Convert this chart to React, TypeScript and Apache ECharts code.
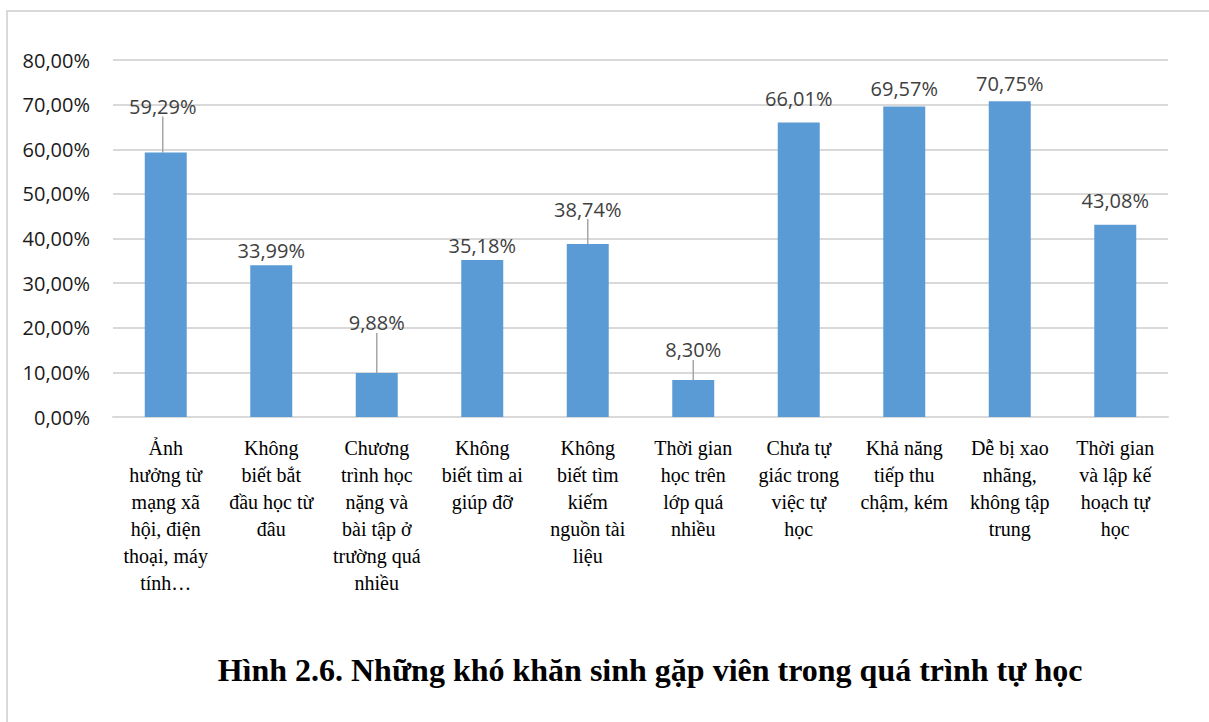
import React, { useEffect, useRef } from "react";
import * as echarts from "echarts";

const categories: string[] = [
  "Ảnh\nhưởng từ\nmạng xã\nhội, điện\nthoại, máy\ntính…",
  "Không\nbiết bắt\nđầu học từ\nđâu",
  "Chương\ntrình học\nnặng và\nbài tập ở\ntrường quá\nnhiều",
  "Không\nbiết tìm ai\ngiúp đỡ",
  "Không\nbiết tìm\nkiếm\nnguồn tài\nliệu",
  "Thời gian\nhọc trên\nlớp quá\nnhiều",
  "Chưa tự\ngiác trong\nviệc tự\nhọc",
  "Khả năng\ntiếp thu\nchậm, kém",
  "Dễ bị xao\nnhãng,\nkhông tập\ntrung",
  "Thời gian\nvà lập kế\nhoạch tự\nhọc",
];

const values: number[] = [59.29, 33.99, 9.88, 35.18, 38.74, 8.3, 66.01, 69.57, 70.75, 43.08];

// Gap (px) between each bar's top and its value label
const labelGap: number[] = [5, 5, 5, 5, 5, 5, 14, 8, 8, 14];
// Labels lifted away from their bars and tied back with a leader line
const leaderShiftY: number[] = [-31, 0, -35, 0, -20, -15, 0, 0, 0, 0];
const leaderShiftX: number[] = [-3, 0, 0, 0, 0, 0, 0, 0, 0, 0];

const yTicks = { min: 0, max: 80, interval: 10 };

const titleText = "Hình 2.6. Những khó khăn sinh gặp viên trong quá trình tự học";

const fmt = (v: number) => v.toFixed(2).replace(".", ",") + "%";

const hasLeader = (i: number) => leaderShiftY[i] !== 0 || leaderShiftX[i] !== 0;

export default function App() {
  const ref = useRef<HTMLDivElement>(null);

  useEffect(() => {
    if (!ref.current) return;
    const chart = echarts.init(ref.current, undefined, { renderer: "svg" });
    chart.setOption({
      animation: false,
      backgroundColor: "#ffffff",
      grid: { left: 113, right: 41, top: 60, bottom: 305, containLabel: false },
      graphic: [
        {
          type: "rect",
          shape: { x: 7, y: 11, width: 1400, height: 900 },
          style: { fill: "none", stroke: "#d9d9d9", lineWidth: 2 },
          silent: true,
        },
        {
          type: "text",
          x: 650,
          y: 670,
          style: {
            text: titleText,
            fontFamily: "Liberation Serif",
            fontWeight: "bold",
            fontSize: 32,
            fill: "#000000",
            align: "center",
            verticalAlign: "middle",
          },
        },
      ],
      xAxis: {
        type: "category",
        data: categories,
        axisLine: { show: true, lineStyle: { color: "#d9d9d9", width: 2 } },
        axisTick: { show: false },
        axisLabel: {
          interval: 0,
          margin: 17,
          fontFamily: "Liberation Serif",
          fontSize: 20,
          lineHeight: 27,
          color: "#000000",
          align: "center",
        },
      },
      yAxis: {
        type: "value",
        min: yTicks.min,
        max: yTicks.max,
        interval: yTicks.interval,
        axisLine: { show: false },
        axisTick: { show: false },
        splitLine: { lineStyle: { color: "#d9d9d9", width: 2 } },
        axisLabel: {
          margin: 23,
          fontFamily: "Open Sans",
          fontSize: 20,
          color: "#1a1a1a",
          formatter: (v: number) => fmt(v),
        },
      },
      series: [
        {
          type: "bar",
          data: values.map((v, i) => ({
            value: v,
            label: { distance: labelGap[i] },
            labelLine: { show: hasLeader(i) },
          })),
          barWidth: 42,
          itemStyle: { color: "#5b9bd5" },
          label: {
            show: true,
            position: "top",
            fontFamily: "Open Sans",
            fontSize: 20,
            color: "#404040",
            formatter: (p: any) => fmt(p.value),
          },
          labelLine: { show: true, lineStyle: { color: "#a6a6a6", width: 1.5 } },
          labelLayout: (p: any) => {
            const i = p.dataIndex;
            return hasLeader(i) ? { dx: leaderShiftX[i], dy: leaderShiftY[i] } : {};
          },
        },
      ],
    });
    return () => chart.dispose();
  }, []);

  return (
    <div
      ref={ref}
      style={{ position: "fixed", left: 0, top: 0, width: 1209, height: 722 }}
    />
  );
}
